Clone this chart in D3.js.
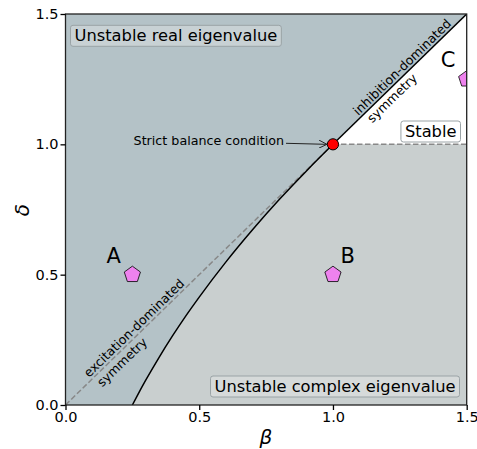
<!DOCTYPE html>
<html>
<head>
<meta charset="utf-8">
<script src="https://d3js.org/d3.v7.min.js"></script>
<style>
   body { margin: 0; background: #fff; }
   text { font-family: "DejaVu Sans", sans-serif; }
</style>
</head>
<body>
<div id="chart"></div>
<script>
// phase diagram of the E-I network, beta vs delta

// boundary between real and complex eigenvalues
var boundary_beta = [0.25, 0.27, 0.3, 0.35, 0.4, 0.45, 0.5, 0.6, 0.7, 0.8, 0.9, 1.0];
var boundary_delta = [0.0, 0.039, 0.095, 0.183, 0.265, 0.342, 0.414, 0.549, 0.673, 0.789, 0.897, 1.0];

// example networks
var point_names = ["A", "B", "C"];
var point_beta = [0.25, 1.0, 1.5];
var point_delta = [0.5, 0.5, 1.25];
var label_beta = [0.18, 1.055, 1.43];
var label_delta = [0.57, 0.57, 1.323];

var tick_values = [0, 0.5, 1.0, 1.5];
var tick_labels = ["0.0", "0.5", "1.0", "1.5"];

var width = 477, height = 449;
// careful: "top" is taken by window.top
var p_left = 65.5, p_right = 466.7, p_top = 14, p_bottom = 405;

var svg = d3.select("#chart").append("svg")
   .attr("width", width)
   .attr("height", height);

var x = d3.scaleLinear().domain([0, 1.5]).range([p_left, p_right]);
var y = d3.scaleLinear().domain([0, 1.5]).range([p_bottom, p_top]);

var defs = svg.append("defs");
defs.append("clipPath").attr("id", "plotclip")
   .append("rect")
   .attr("x", p_left).attr("y", p_top)
   .attr("width", p_right - p_left).attr("height", p_bottom - p_top);

var plot = svg.append("g").attr("clip-path", "url(#plotclip)");

// curve points as [beta, delta]
var curve = boundary_beta.map(function (b, i) { return [b, boundary_delta[i]]; });

var line = d3.line()
   .x(function (d) { return x(d[0]); })
   .y(function (d) { return y(d[1]); })
   .curve(d3.curveMonotoneX);

var poly = d3.line()
   .x(function (d) { return x(d[0]); })
   .y(function (d) { return y(d[1]); });

// real eigenvalue region (upper left)
plot.append("path")
   .attr("d", "M" + x(0) + "," + y(1.5) + "L" + x(0) + "," + y(0) + "L" +
      line(curve).slice(1) + "L" + x(1.5) + "," + y(1.5) + "Z")
   .attr("fill", "#b4c2c7");

// complex eigenvalue region (lower right)
plot.append("path")
   .attr("d", line(curve) + "L" + x(1.5) + "," + y(1.0) + "L" + x(1.5) + "," + y(0) + "Z")
   .attr("fill", "#c9cfcf");

// symmetry lines, dashed
plot.append("path")
   .attr("d", poly([[0, 0], [1, 1]]))
   .attr("stroke", "#888").attr("stroke-width", 1.5)
   .attr("stroke-dasharray", "5.5,2.5").attr("fill", "none");
plot.append("path")
   .attr("d", poly([[1, 1], [1.5, 1]]))
   .attr("stroke", "#888").attr("stroke-width", 1.5)
   .attr("stroke-dasharray", "5.5,2.5").attr("fill", "none");

// solid boundaries
plot.append("path")
   .attr("d", line(curve))
   .attr("stroke", "#000").attr("stroke-width", 1.5).attr("fill", "none");
plot.append("path")
   .attr("d", poly([[1, 1], [1.5, 1.5]]))
   .attr("stroke", "#000").attr("stroke-width", 1.5).attr("fill", "none");

// pentagon markers
function pent_path(r) {
   var pts = [];
   for (var i = 0; i < 5; i++) {
      var a = -Math.PI / 2 + i * 2 * Math.PI / 5;
      pts.push([r * Math.cos(a), r * Math.sin(a)]);
   }
   return "M" + pts.join("L") + "Z";
}
plot.selectAll(".pent")
   .data(point_names)
   .enter().append("path")
   .attr("class", "pent")
   .attr("d", pent_path(8.5))
   .attr("transform", function (d, i) {
      return "translate(" + x(point_beta[i]) + "," + y(point_delta[i]) + ")";
   })
   .attr("fill", "violet").attr("stroke", "#000").attr("stroke-width", 0.8);

svg.selectAll(".plabel")
   .data(point_names)
   .enter().append("text")
   .attr("class", "plabel")
   .attr("x", function (d, i) { return x(label_beta[i]); })
   .attr("y", function (d, i) { return y(label_delta[i]); })
   .attr("text-anchor", "middle")
   .attr("dominant-baseline", "central")
   .attr("font-size", 21)
   .text(function (d) { return d; });

// strict balance point and annotation
svg.append("text")
   .attr("x", 284).attr("y", 140)
   .attr("text-anchor", "end")
   .attr("dominant-baseline", "central")
   .attr("font-size", 12.7)
   .text("Strict balance condition");
defs.append("marker")
   .attr("id", "arrowhead")
   .attr("viewBox", "0 0 10 10")
   .attr("refX", 10).attr("refY", 5)
   .attr("markerWidth", 8).attr("markerHeight", 8)
   .attr("markerUnits", "userSpaceOnUse")
   .attr("orient", "auto")
   .append("path")
   .attr("d", "M0,0L10,5L0,10")
   .attr("fill", "none").attr("stroke", "#222").attr("stroke-width", 1.2);
svg.append("line")
   .attr("x1", 286).attr("y1", 143.3).attr("x2", x(1) - 6).attr("y2", y(1))
   .attr("stroke", "#222").attr("stroke-width", 1)
   .attr("marker-end", "url(#arrowhead)");

svg.append("circle")
   .attr("cx", x(1)).attr("cy", y(1)).attr("r", 5.6)
   .attr("fill", "red").attr("stroke", "#000").attr("stroke-width", 1);

// rotated labels along the symmetry lines
var angle = Math.atan2(y(1.5) - y(1), x(1.5) - x(1)) * 180 / Math.PI;
function rot_text(cx, cy, s) {
   svg.append("text")
      .attr("transform", "translate(" + cx + "," + cy + ") rotate(" + angle + ")")
      .attr("text-anchor", "middle")
      .attr("dominant-baseline", "central")
      .attr("font-size", 12.6)
      .text(s);
}
rot_text(402, 67, "inhibition-dominated");
rot_text(392, 98, "symmetry");
rot_text(134, 328, "excitation-dominated");
rot_text(122, 362, "symmetry");

// boxed region labels
function box_label(tx, ty, s, anchor, fill) {
   var t = svg.append("text")
      .attr("x", tx).attr("y", ty)
      .attr("text-anchor", anchor)
      .attr("dominant-baseline", "central")
      .attr("font-size", 16.3)
      .text(s);
   var bb = t.node().getBBox();
   svg.insert("rect", function () { return t.node(); })
      .attr("x", bb.x - 4).attr("y", ty - 10.5)
      .attr("width", bb.width + 8).attr("height", 21)
      .attr("rx", 2.5)
      .attr("fill", fill).attr("stroke", "#9aa3a6").attr("stroke-width", 1);
}
box_label(74.5, 35.8, "Unstable real eigenvalue", "start", "#c8d1d4");
box_label(455.5, 386.5, "Unstable complex eigenvalue", "end", "#d6dada");
box_label(456.5, 131.5, "Stable", "end", "#ffffff");

// frame
svg.append("rect")
   .attr("x", p_left).attr("y", p_top)
   .attr("width", p_right - p_left).attr("height", p_bottom - p_top)
   .attr("fill", "none").attr("stroke", "#222").attr("stroke-width", 1.3);

// axes
var xaxis = d3.axisBottom(x).tickValues(tick_values)
   .tickFormat(function (d, i) { return tick_labels[i]; })
   .tickSize(5).tickPadding(2);
var yaxis = d3.axisLeft(y).tickValues(tick_values)
   .tickFormat(function (d, i) { return tick_labels[i]; })
   .tickSize(5).tickPadding(2);

var gx = svg.append("g").attr("transform", "translate(0," + p_bottom + ")").call(xaxis);
var gy = svg.append("g").attr("transform", "translate(" + p_left + ",0)").call(yaxis);
[gx, gy].forEach(function (g) {
   g.select(".domain").remove();
   g.selectAll("line").attr("stroke", "#000").attr("stroke-width", 1.3);
   g.selectAll("text").attr("font-size", 14.5).attr("fill", "#000")
      .style("font-family", "DejaVu Sans, sans-serif");
});

svg.append("text")
   .attr("x", 266).attr("y", 444)
   .attr("text-anchor", "middle")
   .attr("font-size", 20).attr("font-style", "italic")
   .text("β");
svg.append("text")
   .attr("transform", "translate(29,210) rotate(-90)")
   .attr("text-anchor", "middle")
   .attr("font-size", 20).attr("font-style", "italic")
   .text("δ");
</script>
</body>
</html>
